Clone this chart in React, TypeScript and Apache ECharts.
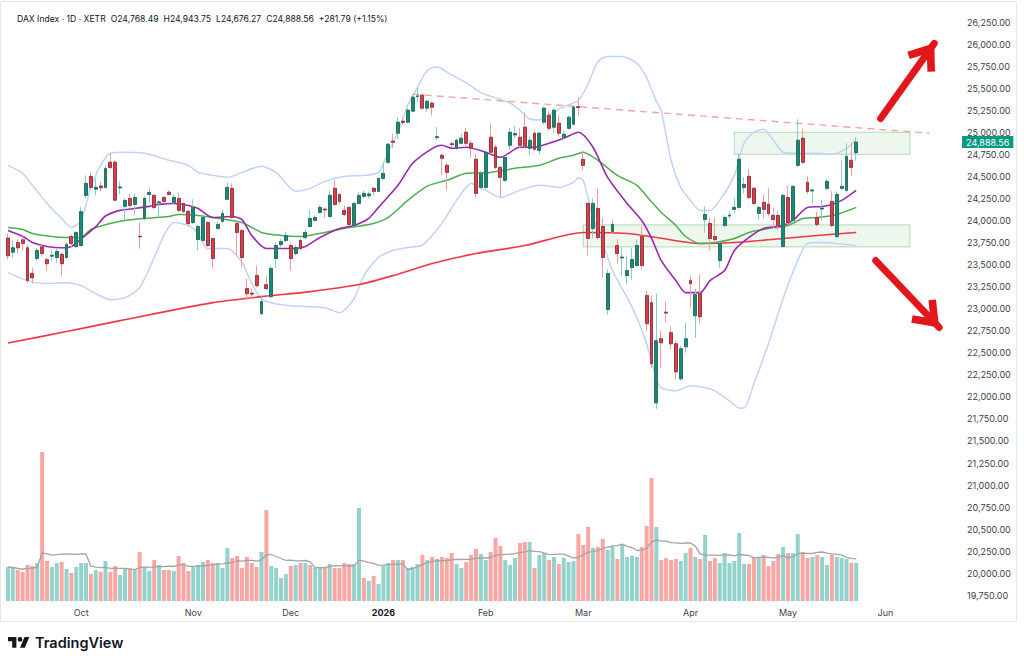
import React, { useEffect, useRef } from "react";
import * as echarts from "echarts";

// ---------- data ----------
const startDate = "2025-09-10";
const categoryCount = 196;
const holidays = ["2025-12-24", "2025-12-25", "2025-12-26", "2025-12-31", "2026-01-01", "2026-04-03", "2026-04-06", "2026-05-01"];
const monthNames = ["Jan", "Feb", "Mar", "Apr", "May", "Jun", "Jul", "Aug", "Sep", "Oct", "Nov", "Dec"];

// [open, close, low, high]
const candlesSep = [
  [23800, 23600, 23560, 23850], [23640, 23690, 23568, 23773], [23750, 23690, 23625, 23784], [23780, 23740, 23660, 23830],
  [23690, 23320, 23290, 23720], [23400, 23350, 23284, 23466], [23570, 23660, 23540, 23690], [23700, 23625, 23590, 23740],
  [23555, 23510, 23430, 23580], [23595, 23605, 23540, 23660], [23580, 23650, 23520, 23680], [23615, 23510, 23375, 23640],
  [23580, 23727, 23560, 23750], [23818, 23738, 23690, 23840], [23704, 23864, 23690, 23880],
];
const candlesOct = [
  [23716, 24100, 23700, 24150], [24284, 24420, 24250, 24510], [24500, 24375, 24360, 24545], [24355, 24375, 24284, 24477],
  [24390, 24370, 24330, 24440], [24375, 24590, 24360, 24625], [24660, 24600, 24580, 24760], [24660, 24230, 24220, 24680],
  [24370, 24380, 24300, 24440], [24160, 24227, 24000, 24250], [24250, 24170, 24150, 24300], [24182, 24261, 24060, 24300],
  [23820, 23815, 23682, 23977], [24023, 24250, 24000, 24270], [24295, 24318, 24200, 24375], [24284, 24148, 24130, 24300],
  [24200, 24210, 24050, 24230], [24261, 24216, 24200, 24270], [24320, 24295, 24280, 24340], [24205, 24261, 24180, 24300],
  [24250, 24114, 24100, 24318], [24193, 24102, 24080, 24200], [24102, 23966, 23930, 24120],
];
const candlesNov = [
  [23977, 24148, 23960, 24240], [23784, 23932, 23660, 23950], [23773, 24034, 23750, 24060], [23977, 23716, 23700, 23990],
  [23795, 23568, 23455, 23800], [23910, 23955, 23890, 23990], [23990, 24080, 23970, 24125], [24240, 24375, 24230, 24432],
  [24364, 24034, 24020, 24420], [23966, 23864, 23600, 23990], [23886, 23580, 23466, 23900], [23227, 23170, 23091, 23341],
  [23175, 23165, 23110, 23230], [23375, 23261, 23240, 23489], [22943, 23080, 22930, 23150], [23272, 23227, 23210, 23375],
  [23136, 23455, 23120, 23489], [23568, 23716, 23460, 23750], [23727, 23761, 23700, 23790], [23773, 23830, 23750, 23870],
];
const candlesDec = [
  [23716, 23568, 23432, 23750], [23625, 23693, 23600, 23720], [23773, 23682, 23660, 23790], [23807, 23864, 23790, 23900],
  [23932, 24023, 23920, 24125], [24000, 24034, 23990, 24060], [24091, 24148, 24080, 24170], [24128, 24120, 24030, 24150],
  [24045, 24284, 24030, 24341], [24364, 24182, 24170, 24455], [24295, 24216, 24180, 24310], [24114, 24068, 24050, 24170],
  [24148, 23955, 23940, 24160], [23943, 24193, 23930, 24205], [24193, 24284, 24180, 24320], [24273, 24307, 24250, 24340],
  [24280, 24300, 24250, 24330], [24364, 24330, 24290, 24380], [24330, 24477, 24320, 24490],
];
const candlesJan = [
  [24477, 24534, 24460, 24660], [24659, 24864, 24640, 24880], [24900, 24886, 24820, 24980], [24989, 25114, 24920, 25170],
  [25125, 25110, 25080, 25160], [25114, 25250, 25100, 25270], [25239, 25398, 25230, 25420], [25405, 25412, 25340, 25500],
  [25420, 25273, 25250, 25440], [25273, 25352, 25230, 25360], [25330, 25284, 25190, 25350], [24940, 24950, 24910, 25060],
  [24739, 24705, 24510, 24760], [24625, 24545, 24341, 24650], [24870, 24860, 24830, 24890], [24818, 24909, 24800, 24930],
  [24875, 24932, 24860, 24980], [25000, 24875, 24850, 25050], [24875, 24818, 24716, 24910], [24693, 24307, 24270, 24750],
  [24375, 24534, 24360, 24560],
];
const candlesFeb = [
  [24375, 24773, 24360, 24800], [24943, 24773, 24750, 25102], [24830, 24602, 24580, 24860], [24602, 24489, 24261, 24620],
  [24455, 24716, 24440, 24730], [24852, 25000, 24800, 25050], [24970, 24985, 24930, 25070], [24943, 24852, 24830, 25050],
  [25057, 24841, 24820, 25227], [24818, 24909, 24740, 24950], [24989, 24807, 24790, 25010], [24795, 24989, 24750, 25000],
  [25114, 25273, 25090, 25290], [25193, 25045, 25020, 25240], [25057, 25250, 25000, 25270], [25102, 24989, 24950, 25190],
  [24943, 24977, 24920, 25020], [25045, 25170, 25030, 25190], [25091, 25284, 25080, 25300], [25290, 25280, 25180, 25398],
];
const candlesMar = [
  [24693, 24625, 24570, 24795], [24193, 23795, 23602, 24210], [23909, 24193, 23800, 24250], [24136, 23807, 23780, 24364],
  [23932, 23580, 23352, 24034], [22989, 23398, 22930, 23440], [23875, 23955, 23860, 24010], [23716, 23625, 23511, 23790],
  [23575, 23585, 23375, 23693], [23375, 23432, 23284, 23602], [23466, 23557, 23330, 23693], [23489, 23716, 23470, 23784],
  [23818, 23489, 23450, 23943], [23148, 22830, 22750, 23200], [23068, 22375, 22330, 23150], [21932, 22636, 21864, 23170],
  [22659, 22614, 22330, 22750], [22960, 22950, 22840, 23080], [22727, 22602, 22540, 22800], [22602, 22284, 22200, 22640],
  [22205, 22545, 22180, 22580], [22568, 22659, 22500, 22840],
];
const candlesApr = [
  [23318, 23284, 23011, 23375], [22920, 23159, 22670, 23227], [23170, 22909, 22830, 23386], [24011, 24068, 23864, 24159],
  [23966, 23795, 23660, 24034], [23818, 23784, 23750, 24034], [23545, 23739, 23466, 23760], [23943, 24034, 23920, 24060],
  [24050, 24060, 24020, 24100], [24125, 24148, 24080, 24250], [24148, 24693, 24130, 24761], [24375, 24409, 24307, 24489],
  [24500, 24261, 24240, 24580], [24364, 24193, 24170, 24380], [24080, 24148, 24000, 24170], [24205, 24125, 24023, 24290],
  [24182, 24080, 24045, 24364], [24057, 24011, 23909, 24148], [24057, 23943, 23890, 24110], [23705, 24284, 23690, 24300],
];
const candlesMay = [
  [24261, 23977, 23960, 24398], [24000, 24386, 23980, 24400], [24625, 24909, 24602, 25148], [24932, 24659, 24640, 25045],
  [24432, 24330, 24300, 24500], [24335, 24345, 24193, 24364], [24034, 23955, 23930, 24100], [24130, 24140, 24000, 24227],
  [24364, 24443, 24340, 24470], [24216, 23943, 23920, 24330], [23818, 24295, 23800, 24330], [24364, 24386, 24341, 24682],
  [24341, 24727, 24320, 24875], [24682, 24602, 24511, 24886], [24768.49, 24888.56, 24676.27, 24943.75],
];

// volume (relative units) and bar colour per day (t = teal, r = red)
const volumeSep = [34, 33, 31, 29, 36, 35, 38, 149, 40, 34, 38, 39, 32, 28, 34];
const volumeOct = [38, 38, 27, 31, 29, 40, 29, 35, 26, 33, 32, 31, 49, 34, 30, 41, 36, 31, 31, 30, 45, 38, 30];
const volumeNov = [34, 36, 39, 41, 38, 38, 33, 53, 43, 45, 33, 44, 38, 34, 49, 91, 35, 33, 23, 27];
const volumeDec = [35, 36, 38, 38, 36, 33, 34, 33, 37, 33, 33, 38, 37, 37, 93, 23, 20, 25, 17];
const volumeJan = [35, 38, 41, 41, 41, 33, 34, 37, 46, 41, 44, 42, 44, 43, 48, 37, 33, 39, 46, 52, 47];
const volumeFeb = [41, 49, 63, 55, 41, 36, 43, 58, 59, 59, 33, 46, 48, 41, 44, 37, 43, 39, 40, 67];
const volumeMar = [56, 74, 53, 54, 62, 51, 54, 42, 56, 44, 45, 44, 54, 75, 123, 74, 41, 43, 41, 42, 40, 48];
const volumeApr = [53, 44, 42, 66, 40, 43, 38, 48, 38, 40, 68, 37, 37, 44, 44, 46, 35, 40, 47, 54];
const volumeMay = [48, 48, 67, 49, 43, 44, 46, 44, 36, 46, 44, 43, 42, 38, 38];
const volumeDirs = [
  "ttrrrrtrrttrtrt", "ttrtrtrrttrtrttrtrrtrrr", "tttrrtttrrrrrrtrtttt", "rtrtrttrtrrrrttrtrt",
  "ttrtrtttrtrtrrrttrrrt", "trrrtttrrtrttrtrtttr", "rrtrrttrttttrrrtrrrrtt", "rtrtrrttttttrrtrrrrt", "rttrrtrttrtttrt",
];
const volumeMaPeriod = 10;

// indicator lines: [bar index, value]
const ma20Line = [
  [0, 23886], [3, 23820], [5, 23750], [8, 23705], [11, 23690], [13, 23705], [15, 23790], [18, 23930], [20, 24050],
  [23, 24114], [26, 24136], [29, 24160], [31, 24182], [34, 24193], [37, 24170], [39, 24136], [42, 24034], [46, 24045],
  [48, 24010], [50, 23830], [53, 23682], [58, 23682], [61, 23705], [64, 23807], [68, 23909], [71, 23943], [74, 24023],
  [76, 24148], [80, 24398], [83, 24648], [87, 24815], [89, 24852], [91, 24818], [94, 24830], [98, 24773], [101, 24716],
  [105, 24830], [108, 24830], [111, 24875], [114, 24932], [117, 25000], [120, 24830], [123, 24489], [127, 24193],
  [130, 24000], [132, 23800], [134, 23545], [137, 23318], [139, 23182], [142, 23182], [144, 23318], [147, 23432],
  [149, 23660], [152, 23807], [155, 23909], [159, 23943], [161, 24000], [164, 24148], [167, 24159], [169, 24182],
  [171, 24227], [174, 24341],
];
const ma50Line = [
  [0, 23920], [3, 23898], [5, 23852], [9, 23818], [12, 23807], [15, 23807], [17, 23898], [21, 23966], [24, 24000],
  [28, 24023], [33, 24045], [35, 24068], [39, 24057], [42, 24034], [48, 23977], [52, 23864], [56, 23830], [60, 23818],
  [65, 23864], [70, 23920], [75, 23966], [78, 24034], [82, 24227], [86, 24390], [90, 24455], [94, 24534], [99, 24545],
  [104, 24591], [109, 24625], [113, 24705], [116, 24739], [118, 24773], [121, 24682], [125, 24511], [129, 24398],
  [132, 24210], [134, 24091], [137, 23943], [139, 23818], [142, 23739], [145, 23750], [149, 23795], [152, 23864],
  [156, 23909], [160, 23943], [163, 24023], [166, 24034], [170, 24068], [174, 24148],
];
const ma200Line = [
  [0, 22610], [12, 22740], [23, 22864], [42, 23068], [52, 23136], [62, 23193], [72, 23273], [79, 23375], [87, 23511],
  [96, 23625], [106, 23715], [118, 23864], [127, 23852], [133, 23807], [142, 23739], [149, 23750], [159, 23795],
  [166, 23830], [174, 23864],
];
const bbUpperLine = [
  [0, 24625], [3, 24534], [5, 24398], [8, 24193], [11, 24023], [13, 23920], [15, 24000], [17, 24375], [19, 24625],
  [21, 24761], [24, 24773], [28, 24761], [33, 24682], [37, 24625], [39, 24545], [42, 24511], [45, 24489], [48, 24545],
  [52, 24614], [55, 24545], [59, 24330], [62, 24364], [65, 24443], [69, 24500], [73, 24511], [76, 24545], [78, 24773],
  [80, 25000], [82, 25307], [84, 25511], [86, 25700], [88, 25740], [91, 25650], [94, 25560], [97, 25450], [100, 25390],
  [103, 25330], [105, 25250], [107, 25150], [109, 25140], [111, 25200], [114, 25290], [117, 25360], [119, 25550],
  [121, 25800], [123, 25860], [126, 25860], [129, 25780], [131, 25620], [133, 25350], [134, 25250], [136, 24682],
  [138, 24375], [140, 24227], [142, 24114], [144, 24114], [146, 24227], [149, 24511], [151, 24875], [153, 25000],
  [155, 25034], [157, 24909], [159, 24773], [162, 24761], [166, 24761], [169, 24750], [172, 24818], [174, 24920],
];
const bbLowerLine = [
  [0, 23409], [4, 23318], [8, 23284], [12, 23295], [15, 23261], [18, 23170], [21, 23102], [24, 23125], [27, 23239],
  [30, 23580], [32, 23830], [34, 23977], [37, 23943], [39, 23852], [41, 23680], [45, 23682], [48, 23523], [50, 23284],
  [52, 23114], [54, 23068], [58, 23034], [65, 23011], [68, 22955], [71, 23114], [73, 23375], [76, 23580], [79, 23659],
  [82, 23693], [85, 23720], [89, 23966], [92, 24227], [95, 24420], [98, 24341], [101, 24261], [105, 24341],
  [109, 24398], [113, 24375], [116, 24432], [117, 24480], [118, 24455], [120, 24034], [122, 23739], [124, 23432],
  [127, 23125], [129, 22898], [131, 22602], [133, 22200], [134, 22102], [137, 22068], [140, 22125], [143, 22102],
  [145, 22068], [148, 21955], [150, 21875], [151, 21875], [153, 22148], [156, 22602], [159, 23114], [162, 23545],
  [164, 23739], [167, 23750], [170, 23739], [174, 23716],
];

// drawings: [bar index, price]
const trendLine = [[83, 25432], [189, 24989]];
const upperZone = [[149, 25000], [185, 24750]];
const lowerZone = [[118, 23950], [185, 23700]];
const arrowUp = [[179, 25156], [190, 26008]];
const arrowDown = [[178, 23545], [191, 22787]];

const headerParts = ["DAX Index · 1D · XETR", "O24,768.49", "H24,943.75", "L24,676.27", "C24,888.56", "+281.79 (+1.15%)"];
const priceMin = 19750;
const priceMax = 26250;
const priceStep = 250;

// ---------- helpers ----------
function buildTradingDays(start: string, count: number, skip: string[]): string[] {
  const out: string[] = [];
  const d = new Date(start + "T00:00:00Z");
  while (out.length < count) {
    const wd = d.getUTCDay();
    const iso = d.toISOString().slice(0, 10);
    if (wd !== 0 && wd !== 6 && !skip.includes(iso)) out.push(iso);
    d.setUTCDate(d.getUTCDate() + 1);
  }
  return out;
}
function fmtPrice(v: number): string {
  const [i, dec] = v.toFixed(2).split(".");
  return i.replace(/\B(?=(\d{3})+(?!\d))/g, ",") + "." + dec;
}
function sma(values: number[], n: number): number[] {
  return values.map((_, i) => {
    const w = values.slice(Math.max(0, i - n + 1), i + 1);
    return w.reduce((a, b) => a + b, 0) / w.length;
  });
}

const TV_LOGO = "M14 22H7V11H0V4h14v18zM28 22h-8l7.5-18h8L28 22zM16 8a4 4 0 1 0 8 0a4 4 0 1 0 -8 0z";
const CHEVRON = "path://M0,13 L10,0 L20,13 L16.4,15.6 L10,7.4 L3.6,15.6 Z M10,-15.6 L10.01,-15.6 L10,-15.59 Z";

export default function App() {
  const ref = useRef<HTMLDivElement>(null);
  useEffect(() => {
    if (!ref.current) return;
    try {
      echarts.graphic.registerShape("tvlogo", echarts.graphic.extendPath(TV_LOGO, {}) as any);
    } catch (e) {}
    const chart = echarts.init(ref.current, undefined, { renderer: "svg" });

    const categories = buildTradingDays(startDate, categoryCount, holidays);
    const candles = [
      ...candlesSep, ...candlesOct, ...candlesNov, ...candlesDec, ...candlesJan,
      ...candlesFeb, ...candlesMar, ...candlesApr, ...candlesMay,
    ];
    const volumes = [
      ...volumeSep, ...volumeOct, ...volumeNov, ...volumeDec, ...volumeJan,
      ...volumeFeb, ...volumeMar, ...volumeApr, ...volumeMay,
    ];
    const dirs = volumeDirs.join("").split("");
    const volMa = sma(volumes, volumeMaPeriod);
    const lastClose = candles[candles.length - 1][1];

    const bodies = candles.map(([o, c]) => [o, c, Math.min(o, c), Math.max(o, c)]);

    const font = "Inter, 'Noto Sans', sans-serif";
    const axisColor = "#3b3f4a";

    const lineSeries = (data: number[][], color: string, width: number, z: number) => ({
      type: "line",
      xAxisIndex: 0,
      yAxisIndex: 0,
      data,
      showSymbol: false,
      smooth: 0.25,
      silent: true,
      z,
      lineStyle: { color, width },
    });

    const arrowStyle = { color: "#e3161b", width: 7, type: "solid", cap: "round" };
    const arrowLine = (pts: number[][]) => [
      { coord: pts[0], symbol: "none", lineStyle: arrowStyle },
      { coord: pts[1], symbol: CHEVRON, symbolSize: [34, 54] },
    ];

    const headerRich = headerParts
      .map((p, k) => (k < headerParts.length - 1 ? "{g|" + p + "}" : "{e|" + p + "}"))
      .join("");
    const headerFont = { fontSize: 8.6, fontWeight: 400, color: "#131722", fontFamily: font };

    chart.setOption({
      animation: false,
      backgroundColor: "#ffffff",
      textStyle: { fontFamily: font },
      title: {
        text: headerRich,
        left: 12,
        top: 9,
        textStyle: {
          ...headerFont,
          rich: {
            g: { ...headerFont, padding: [0, 5, 0, 0] },
            e: { ...headerFont },
          },
        },
      },
      grid: [
        { left: 5.56, right: 62.94, top: 22, bottom: 68.7 },
        { left: 5.56, right: 62.94, top: 440, bottom: 63 },
      ],
      xAxis: [
        {
          type: "category", gridIndex: 0, data: categories, boundaryGap: true,
          axisLine: { show: false }, axisTick: { show: false }, axisLabel: { show: false }, splitLine: { show: false },
        },
        {
          type: "category", gridIndex: 1, data: categories, boundaryGap: true,
          axisLine: { show: false }, axisTick: { show: false }, splitLine: { show: false },
          axisLabel: {
            margin: 7,
            fontSize: 9,
            color: axisColor,
            fontFamily: font,
            interval: (index: number, value: string) =>
              index > 0 && value.slice(0, 7) !== categories[index - 1].slice(0, 7),
            formatter: (value: string) => {
              const m = Number(value.slice(5, 7)) - 1;
              return m === 0 ? "{y|" + value.slice(0, 4) + "}" : monthNames[m];
            },
            rich: { y: { fontSize: 9, fontWeight: "bold", color: "#131722", fontFamily: font } },
          },
        },
      ],
      yAxis: [
        {
          type: "value", gridIndex: 0, position: "right", min: priceMin, max: priceMax, interval: priceStep,
          axisLine: { show: false }, axisTick: { show: false }, splitLine: { show: false },
          axisLabel: { margin: 6, fontSize: 9, color: axisColor, fontFamily: font, formatter: (v: number) => fmtPrice(v) },
        },
        { type: "value", gridIndex: 1, min: 0, max: 161, show: false },
      ],
      series: [
        {
          type: "bar", xAxisIndex: 1, yAxisIndex: 1, silent: true, barCategoryGap: "18%", z: 1,
          data: volumes.map((v, i) => ({
            value: v,
            itemStyle: { color: dirs[i] === "t" ? "#93d3cc" : "#f8a7a5" },
          })),
        },
        {
          type: "line", xAxisIndex: 1, yAxisIndex: 1, data: volMa, showSymbol: false, silent: true, z: 2,
          lineStyle: { color: "#a3a3a8", width: 1.3 },
        },
        lineSeries(bbUpperLine, "#c1d2fd", 1.5, 3),
        lineSeries(bbLowerLine, "#c1d2fd", 1.5, 3),
        lineSeries(ma200Line, "#f23645", 1.6, 4),
        lineSeries(ma50Line, "#4caf50", 1.5, 4),
        lineSeries(ma20Line, "#9c27b0", 1.6, 4),
        {
          type: "candlestick", xAxisIndex: 0, yAxisIndex: 0, silent: true, barWidth: 3.4, z: 5,
          data: candles,
          itemStyle: {
            color: "rgba(0,0,0,0)", color0: "rgba(0,0,0,0)",
            borderColor: "#86cfc3", borderColor0: "#f59aa1", borderWidth: 1,
          },
          markArea: {
            silent: true,
            itemStyle: { color: "rgba(76,175,80,0.10)", borderColor: "rgba(76,175,80,0.40)", borderWidth: 1 },
            data: [
              [{ coord: upperZone[0] }, { coord: upperZone[1] }],
              [{ coord: lowerZone[0] }, { coord: lowerZone[1] }],
            ],
          },
        },
        {
          type: "candlestick", xAxisIndex: 0, yAxisIndex: 0, silent: true, barWidth: 3.4, z: 6,
          data: bodies,
          itemStyle: {
            color: "#0c8e7b", color0: "#e23a48",
            borderColor: "#2f5a53", borderColor0: "#74343a", borderWidth: 0.8,
          },
          markLine: {
            silent: true,
            symbol: "none",
            label: { show: false },
            data: [
              [
                { coord: trendLine[0], lineStyle: { color: "#f6a3a3", width: 1.4, type: [7, 5] } },
                { coord: trendLine[1] },
              ],
              arrowLine(arrowUp),
              arrowLine(arrowDown),
              {
                yAxis: lastClose,
                lineStyle: { color: "rgba(0,0,0,0)", width: 0 },
                label: {
                  show: true, position: "end", distance: 1,
                  formatter: fmtPrice(lastClose),
                  backgroundColor: "#089981", color: "#ffffff",
                  fontSize: 9, fontFamily: font, padding: [2, 4, 1, 4],
                },
              },
            ],
          },
        },
      ],
      graphic: [
        {
          type: "rect", silent: true, z: -10,
          shape: { x: 0.5, y: 1.5, width: 1016, height: 620 },
          style: { fill: "none", stroke: "#e3e6ec", lineWidth: 1 },
        },
        {
          type: "tvlogo", x: 8, y: 634.6, scaleX: 0.6, scaleY: 0.6, silent: true,
          style: { fill: "#131722" },
        },
        {
          type: "text", x: 35, y: 642.5, silent: true,
          style: { text: "TradingView", fill: "#131722", font: "600 14.5px Inter, 'Noto Sans', sans-serif", textVerticalAlign: "middle" },
        },
      ],
    });
    return () => chart.dispose();
  }, []);
  return (
    <div
      ref={ref}
      style={{ position: "fixed", left: 0, top: 0, width: 1024, height: 664, background: "#fff" }}
    />
  );
}
